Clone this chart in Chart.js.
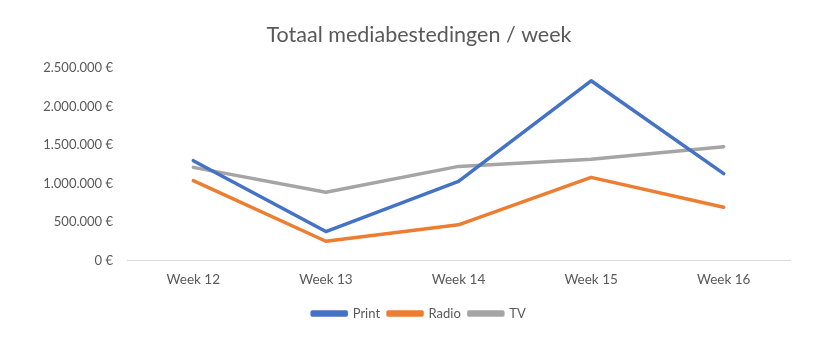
<!DOCTYPE html>
<html>
<head>
<meta charset="utf-8">
<script src="https://cdn.jsdelivr.net/npm/chart.js@4"></script>
<style>
  html, body { margin: 0; padding: 0; background: #fff; }
  #wrap { width: 830px; height: 349px; }
</style>
</head>
<body>
<div id="wrap"><canvas id="media"></canvas></div>
<script>
// weekly media spend per channel
const weeks = ['Week 12', 'Week 13', 'Week 14', 'Week 15', 'Week 16'];
const print = [1297000, 379000, 1029000, 2332000, 1129000];
const radio = [1038000, 253000, 466000, 1081000, 693000];
const tv = [1210000, 887000, 1223000, 1314000, 1478000];

const textColor = '#595959';
const fontFamily = 'Lato, "Open Sans", sans-serif';

// 2500000 -> "2.500.000 €"
function euro(v) {
  return String(Math.round(v)).replace(/\B(?=(\d{3})+(?!\d))/g, '.') + ' €';
}

// narrow the title and legend boxes on the left so they centre a bit further right
const centreBoxes = {
  id: 'centreBoxes',
  afterLayout(chart) {
    [chart.titleBlock, chart.legend].forEach((b) => {
      if (b) {
        b.left = 48;
        b.width = b.right - b.left;
      }
    });
  }
};

const config = {
  type: 'line',
  data: {
    labels: weeks,
    datasets: [
      { label: 'Print', data: print, borderColor: '#4472C4', backgroundColor: '#4472C4' },
      { label: 'Radio', data: radio, borderColor: '#ED7D31', backgroundColor: '#ED7D31' },
      { label: 'TV', data: tv, borderColor: '#A5A5A5', backgroundColor: '#A5A5A5' }
    ]
  },
  options: {
    responsive: true,
    maintainAspectRatio: false,
    animation: false,
    layout: { padding: { left: 20, right: 40, top: 0, bottom: 19 } },
    elements: {
      line: { borderWidth: 3.5, tension: 0, borderCapStyle: 'round', borderJoinStyle: 'round' },
      point: { radius: 0, hoverRadius: 0 }
    },
    plugins: {
      title: {
        display: true,
        text: 'Totaal mediabestedingen / week',
        color: textColor,
        font: { family: fontFamily, size: 21.5, weight: 'normal' },
        padding: { top: 22, bottom: 20 }
      },
      legend: {
        position: 'bottom',
        labels: {
          color: textColor,
          font: { family: fontFamily, size: 13 },
          boxWidth: 34,
          boxHeight: 3,
          padding: 8
        }
      },
      tooltip: { enabled: false }
    },
    scales: {
      x: {
        offset: true,
        grid: { display: false, drawTicks: false },
        border: { color: '#D9D9D9', width: 1 },
        ticks: { color: textColor, font: { family: fontFamily, size: 13.5 }, padding: 11 }
      },
      y: {
        min: 0,
        max: 2500000,
        grid: { display: false, drawTicks: false },
        border: { display: false },
        afterFit(scale) { scale.width = 107; },
        ticks: {
          stepSize: 500000,
          color: textColor,
          font: { family: fontFamily, size: 13 },
          padding: 14,
          callback: (v) => euro(v)
        }
      }
    }
  },
  plugins: [centreBoxes]
};

new Chart(document.getElementById('media'), config);
</script>
</body>
</html>
